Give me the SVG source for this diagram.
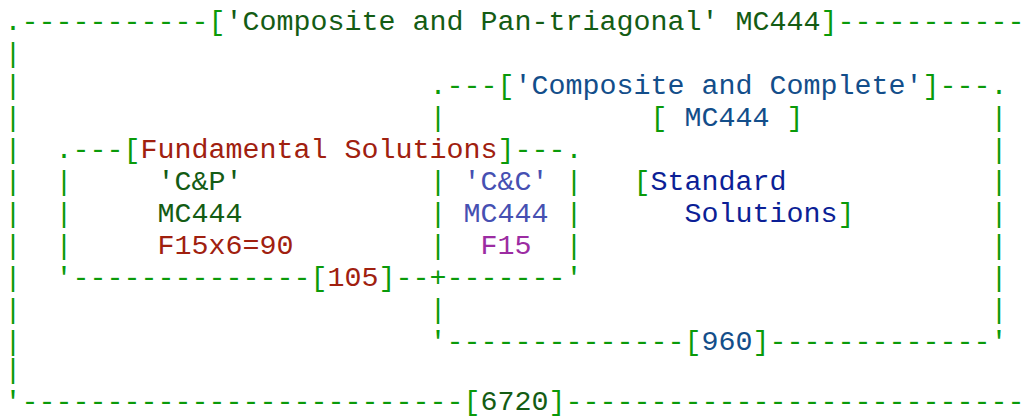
<svg xmlns="http://www.w3.org/2000/svg" width="1026" height="419" viewBox="0 0 1026 419">
<style>
text{font-family:"Liberation Mono","DejaVu Sans Mono",monospace;font-size:28.33px;white-space:pre}
.g{fill:#0a9a0a}
.dg{fill:#145c14}
.bl{fill:#134e8a}
.rd{fill:#a0200f}
.sl{fill:#4650b2}
.pu{fill:#9c2ca2}
.nv{fill:#0c1f96}
</style>
<rect width="1026" height="419" fill="#ffffff"/>
<g id="composite-pan-triagonal">
<text class="g" x="4.5" y="30">.-----------[<tspan class="dg">'Composite and Pan-triagonal' MC444</tspan>]-----------</text>
<text class="g" x="4.5" y="62">|</text>
<text class="g" x="4.5" y="94">|</text>
<text class="g" x="4.5" y="126">|</text>
<text class="g" x="4.5" y="158">|</text>
<text class="g" x="4.5" y="190">|</text>
<text class="g" x="4.5" y="222">|</text>
<text class="g" x="4.5" y="254">|</text>
<text class="g" x="4.5" y="286">|</text>
<text class="g" x="4.5" y="318">|</text>
<text class="g" x="4.5" y="350">|</text>
<text class="g" x="4.5" y="378">|</text>
<text class="g" x="4.5" y="410">'--------------------------[<tspan class="dg">6720</tspan>]---------------------------</text>
</g>
<g id="composite-complete">
<text class="g" x="429.5" y="94">.---[<tspan class="bl">'Composite and Complete'</tspan>]---.</text>
<text class="g" x="429.5" y="126">|</text>
<text class="g" x="650.5" y="126">[</text>
<text class="bl" x="684.5" y="126">MC444</text>
<text class="g" x="786.5" y="126">]</text>
<text class="g" x="429.5" y="190">|</text>
<text class="g" x="429.5" y="222">|</text>
<text class="g" x="429.5" y="254">|</text>
<text class="g" x="429.5" y="318">|</text>
<text class="g" x="990.5" y="126">|</text>
<text class="g" x="990.5" y="158">|</text>
<text class="g" x="990.5" y="190">|</text>
<text class="g" x="990.5" y="222">|</text>
<text class="g" x="990.5" y="254">|</text>
<text class="g" x="990.5" y="286">|</text>
<text class="g" x="990.5" y="318">|</text>
<text class="g" x="429.5" y="350">'--------------[<tspan class="bl">960</tspan>]-------------'</text>
<text class="g" x="633.5" y="190">[<tspan class="nv">Standard</tspan></text>
<text class="nv" x="684.5" y="222">Solutions<tspan class="g">]</tspan></text>
</g>
<g id="fundamental-solutions">
<text class="g" x="55.5" y="158">.---[<tspan class="rd">Fundamental Solutions</tspan>]---.</text>
<text class="g" x="55.5" y="190">|</text>
<text class="g" x="55.5" y="222">|</text>
<text class="g" x="55.5" y="254">|</text>
<text class="g" x="565.5" y="190">|</text>
<text class="g" x="565.5" y="222">|</text>
<text class="g" x="565.5" y="254">|</text>
<text class="dg" x="157.5" y="190">'C&amp;P'</text>
<text class="dg" x="157.5" y="222">MC444</text>
<text class="rd" x="157.5" y="254">F15x6=90</text>
<text class="g" x="55.5" y="286">'--------------[<tspan class="rd">105</tspan>]--+-------'</text>
</g>
<g id="overlap-cc">
<text class="sl" x="463.5" y="190">'C&amp;C'</text>
<text class="sl" x="463.5" y="222">MC444</text>
<text class="pu" x="480.5" y="254">F15</text>
</g>
<g id="connectors"/>
</svg>
